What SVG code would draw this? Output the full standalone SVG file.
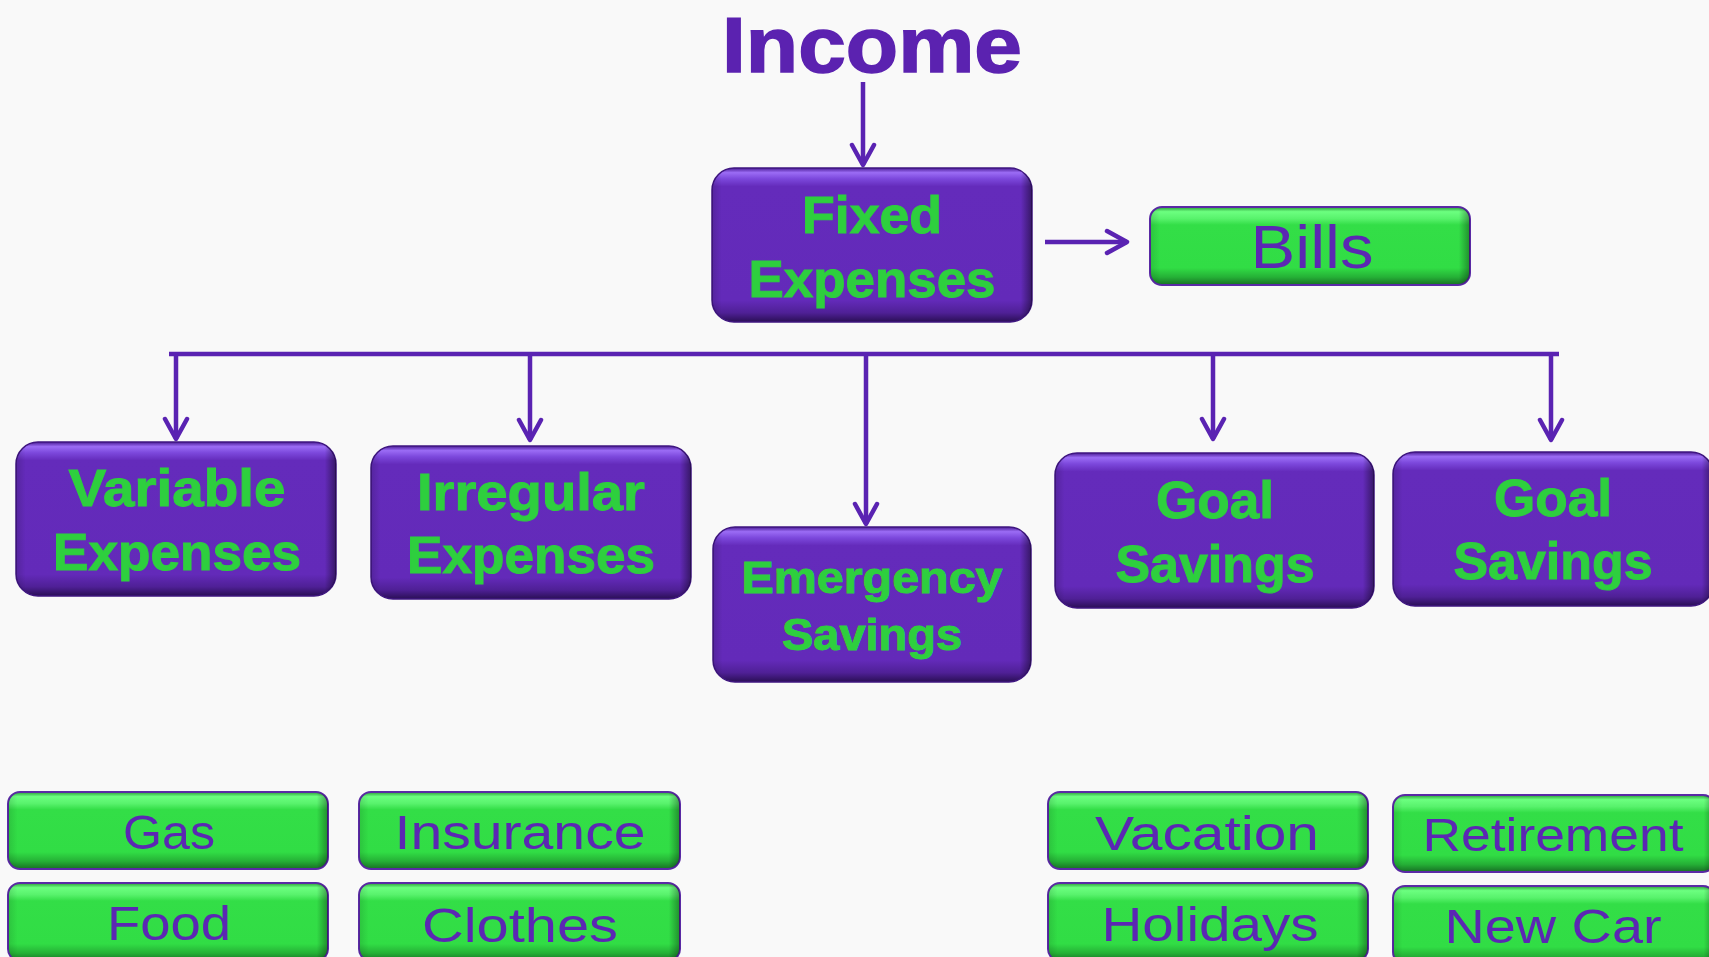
<svg xmlns="http://www.w3.org/2000/svg" width="1709" height="957" viewBox="0 0 1709 957">
<defs>
<linearGradient id="pv" x1="0" y1="0" x2="0" y2="1">
<stop offset="0" stop-color="#4b1c96"/>
<stop offset="0.03" stop-color="#9b6cf5"/>
<stop offset="0.07" stop-color="#7c48dc"/>
<stop offset="0.12" stop-color="#642bbb"/>
<stop offset="0.86" stop-color="#632ab9"/>
<stop offset="0.94" stop-color="#4f2096"/>
<stop offset="1" stop-color="#2a0f55"/>
</linearGradient>
<linearGradient id="ph" x1="0" y1="0" x2="1" y2="0">
<stop offset="0" stop-color="#000" stop-opacity="0.15"/>
<stop offset="0.03" stop-color="#000" stop-opacity="0"/>
<stop offset="0.965" stop-color="#000" stop-opacity="0"/>
<stop offset="1" stop-color="#000" stop-opacity="0.45"/>
</linearGradient>
<linearGradient id="gv" x1="0" y1="0" x2="0" y2="1">
<stop offset="0" stop-color="#2a9a38"/>
<stop offset="0.06" stop-color="#6cff80"/>
<stop offset="0.15" stop-color="#58f26c"/>
<stop offset="0.23" stop-color="#33de47"/>
<stop offset="0.78" stop-color="#31dd45"/>
<stop offset="0.9" stop-color="#25b036"/>
<stop offset="1" stop-color="#176f24"/>
</linearGradient>
<marker id="ah" viewBox="-24 -14 28 28" refX="0" refY="0" markerWidth="28" markerHeight="28" markerUnits="userSpaceOnUse" orient="auto">
<path d="M-20,-11 L0,0 L-20,11" fill="none" stroke="#5a23b2" stroke-width="4.5" stroke-linecap="round" stroke-linejoin="round"/>
</marker>
</defs>
<style>
.pb{fill:url(#pv);stroke:#3f1680;stroke-width:1.5}
.ps{fill:url(#ph)}
.gb{fill:url(#gv);stroke:#5a2aa5;stroke-width:2}
.gs{fill:url(#ph);opacity:0.8}
.bt{font-family:"Liberation Sans",Arial,sans-serif;font-weight:bold;fill:#2ecf3e;stroke:#2ecf3e;stroke-width:1;text-anchor:middle}
.lt{font-family:"Liberation Sans",Arial,sans-serif;fill:#5b27b3;text-anchor:middle}
.ln{fill:none;stroke:#5a23b2;stroke-width:4.5}
</style>
<rect width="1709" height="957" fill="#f9f9f9"/>

<g id="income">
<text x="872" y="72" font-family="Liberation Sans, Arial, sans-serif" font-weight="bold" font-size="78" fill="#5b22b0" stroke="#5b22b0" stroke-width="1.5" text-anchor="middle" textLength="300" lengthAdjust="spacingAndGlyphs">Income</text>
</g>

<g id="connectors">
<line class="ln" x1="863" y1="82" x2="863" y2="165" marker-end="url(#ah)"/>
<line class="ln" x1="1045" y1="242" x2="1127" y2="242" marker-end="url(#ah)"/>
<line class="ln" x1="169" y1="354" x2="1559" y2="354"/>
<line class="ln" x1="176" y1="354" x2="176" y2="439" marker-end="url(#ah)"/>
<line class="ln" x1="530" y1="354" x2="530" y2="440" marker-end="url(#ah)"/>
<line class="ln" x1="866" y1="354" x2="866" y2="524" marker-end="url(#ah)"/>
<line class="ln" x1="1213" y1="354" x2="1213" y2="439" marker-end="url(#ah)"/>
<line class="ln" x1="1551" y1="354" x2="1551" y2="440" marker-end="url(#ah)"/>
</g>

<g id="fixed">
<rect class="pb" x="712" y="168" width="320" height="154" rx="22"/>
<rect class="ps" x="712" y="168" width="320" height="154" rx="22"/>
<text class="bt" x="872" y="233" font-size="52" textLength="140" lengthAdjust="spacingAndGlyphs">Fixed</text>
<text class="bt" x="872" y="297" font-size="52" textLength="247" lengthAdjust="spacingAndGlyphs">Expenses</text>
</g>

<g id="bills">
<rect class="gb" x="1150" y="207" width="320" height="78" rx="12"/>
<rect class="gs" x="1150" y="207" width="320" height="78" rx="12"/>
<text class="lt" x="1312" y="268" font-size="62" textLength="123" lengthAdjust="spacingAndGlyphs">Bills</text>
</g>

<g id="variable">
<rect class="pb" x="16" y="442" width="320" height="154" rx="22"/>
<rect class="ps" x="16" y="442" width="320" height="154" rx="22"/>
<text class="bt" x="177" y="506" font-size="52" textLength="217" lengthAdjust="spacingAndGlyphs">Variable</text>
<text class="bt" x="177" y="570" font-size="52" textLength="248" lengthAdjust="spacingAndGlyphs">Expenses</text>
</g>

<g id="irregular">
<rect class="pb" x="371" y="446" width="320" height="153" rx="22"/>
<rect class="ps" x="371" y="446" width="320" height="153" rx="22"/>
<text class="bt" x="531" y="510" font-size="52" textLength="228" lengthAdjust="spacingAndGlyphs">Irregular</text>
<text class="bt" x="531" y="573" font-size="52" textLength="248" lengthAdjust="spacingAndGlyphs">Expenses</text>
</g>

<g id="emergency">
<rect class="pb" x="713" y="527" width="318" height="155" rx="22"/>
<rect class="ps" x="713" y="527" width="318" height="155" rx="22"/>
<text class="bt" x="872" y="593" font-size="45" textLength="261" lengthAdjust="spacingAndGlyphs">Emergency</text>
<text class="bt" x="872" y="650" font-size="45" textLength="180" lengthAdjust="spacingAndGlyphs">Savings</text>
</g>

<g id="goal1">
<rect class="pb" x="1055" y="453" width="319" height="155" rx="22"/>
<rect class="ps" x="1055" y="453" width="319" height="155" rx="22"/>
<text class="bt" x="1215" y="518" font-size="52" textLength="118" lengthAdjust="spacingAndGlyphs">Goal</text>
<text class="bt" x="1215" y="582" font-size="52" textLength="199" lengthAdjust="spacingAndGlyphs">Savings</text>
</g>

<g id="goal2">
<rect class="pb" x="1393" y="452" width="320" height="154" rx="22"/>
<rect class="ps" x="1393" y="452" width="320" height="154" rx="22"/>
<text class="bt" x="1553" y="516" font-size="52" textLength="118" lengthAdjust="spacingAndGlyphs">Goal</text>
<text class="bt" x="1553" y="579" font-size="52" textLength="199" lengthAdjust="spacingAndGlyphs">Savings</text>
</g>

<g id="gas">
<rect class="gb" x="8" y="792" width="320" height="77" rx="12"/>
<rect class="gs" x="8" y="792" width="320" height="77" rx="12"/>
<text class="lt" x="169" y="849" font-size="48" textLength="92" lengthAdjust="spacingAndGlyphs">Gas</text>
</g>
<g id="food">
<rect class="gb" x="8" y="883" width="320" height="78" rx="12"/>
<rect class="gs" x="8" y="883" width="320" height="78" rx="12"/>
<text class="lt" x="169" y="940" font-size="48" textLength="124" lengthAdjust="spacingAndGlyphs">Food</text>
</g>
<g id="insurance">
<rect class="gb" x="359" y="792" width="321" height="77" rx="12"/>
<rect class="gs" x="359" y="792" width="321" height="77" rx="12"/>
<text class="lt" x="520" y="849" font-size="48" textLength="251" lengthAdjust="spacingAndGlyphs">Insurance</text>
</g>
<g id="clothes">
<rect class="gb" x="359" y="883" width="321" height="78" rx="12"/>
<rect class="gs" x="359" y="883" width="321" height="78" rx="12"/>
<text class="lt" x="520" y="942" font-size="48" textLength="196" lengthAdjust="spacingAndGlyphs">Clothes</text>
</g>
<g id="vacation">
<rect class="gb" x="1048" y="792" width="320" height="77" rx="12"/>
<rect class="gs" x="1048" y="792" width="320" height="77" rx="12"/>
<text class="lt" x="1207" y="850" font-size="48" textLength="224" lengthAdjust="spacingAndGlyphs">Vacation</text>
</g>
<g id="holidays">
<rect class="gb" x="1048" y="883" width="320" height="78" rx="12"/>
<rect class="gs" x="1048" y="883" width="320" height="78" rx="12"/>
<text class="lt" x="1210" y="941" font-size="48" textLength="217" lengthAdjust="spacingAndGlyphs">Holidays</text>
</g>
<g id="retirement">
<rect class="gb" x="1393" y="795" width="322" height="77" rx="12"/>
<rect class="gs" x="1393" y="795" width="322" height="77" rx="12"/>
<text class="lt" x="1553" y="851" font-size="46" textLength="261" lengthAdjust="spacingAndGlyphs">Retirement</text>
</g>
<g id="newcar">
<rect class="gb" x="1393" y="886" width="322" height="78" rx="12"/>
<rect class="gs" x="1393" y="886" width="322" height="78" rx="12"/>
<text class="lt" x="1553" y="943" font-size="48" textLength="217" lengthAdjust="spacingAndGlyphs">New Car</text>
</g>
</svg>
